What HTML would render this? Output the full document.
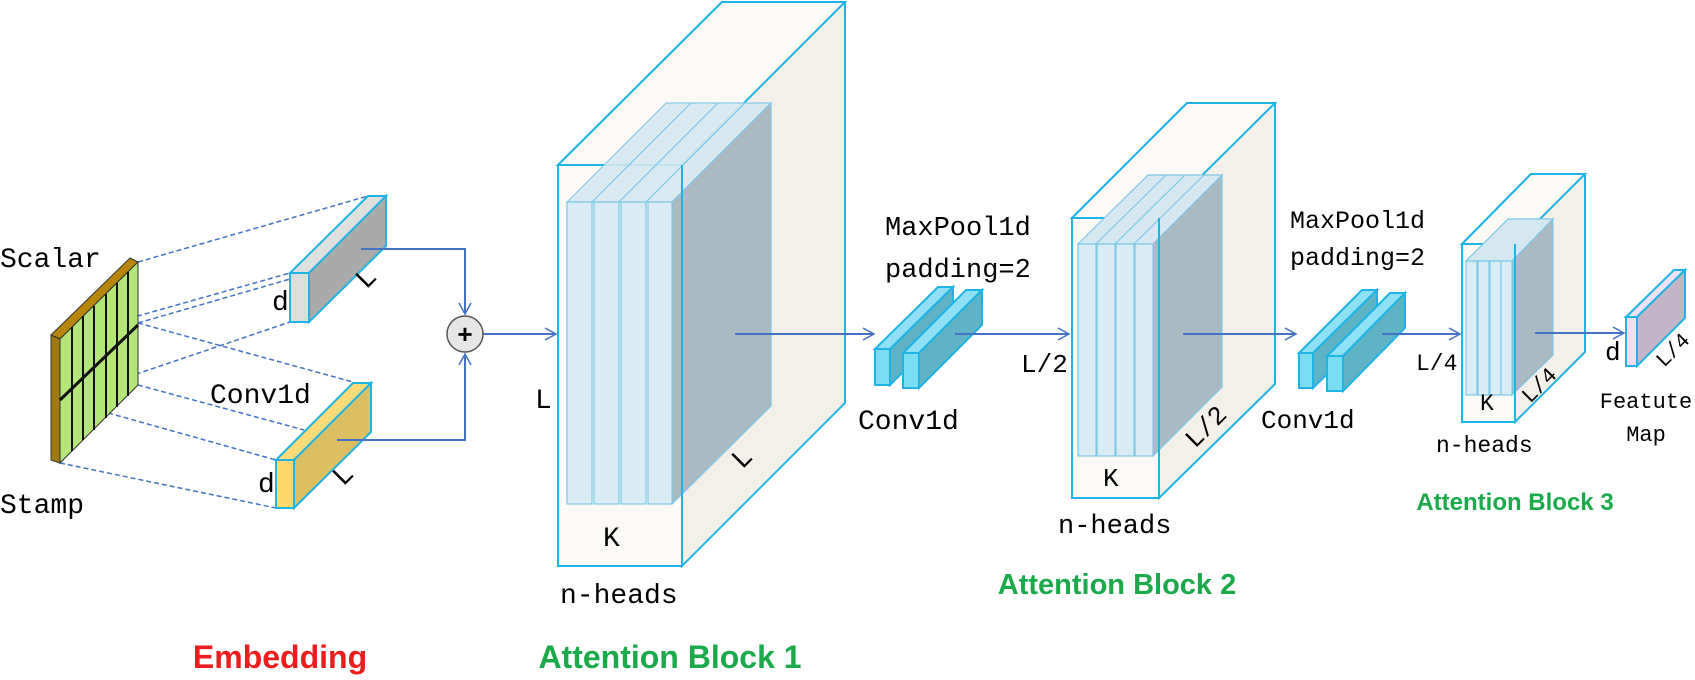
<!DOCTYPE html>
<html><head><meta charset="utf-8"><style>
body{margin:0;background:#fff}
svg text{font-family:"Liberation Mono","Noto Serif CJK SC",monospace;fill:#000}
.s{font-family:"Liberation Sans",sans-serif !important;font-weight:bold}
</style></head><body>
<svg width="1695" height="675" viewBox="0 0 1695 675" xmlns="http://www.w3.org/2000/svg">
<defs><marker id="a" markerWidth="14" markerHeight="14" refX="12" refY="7" orient="auto" markerUnits="userSpaceOnUse"><path d="M1,1 L12,7 L1,13" fill="none" stroke="#4472c4" stroke-width="1.5"/></marker></defs>
<g stroke="#4472c4" stroke-width="1.5" stroke-dasharray="5,3" fill="none">
<line x1="138" y1="262" x2="368" y2="196"/><line x1="60" y1="338" x2="290" y2="273"/>
<line x1="138" y1="323" x2="290" y2="279"/><line x1="60" y1="400" x2="290" y2="322"/>
<line x1="138" y1="323" x2="353" y2="382"/><line x1="62" y1="400" x2="276" y2="460"/>
<line x1="138" y1="385" x2="304" y2="430"/><line x1="60" y1="463" x2="276" y2="508"/>
</g>
<polygon points="51,335 130,258 138,262 60,339" fill="#b8860b" stroke="#333" stroke-width="1"/>
<polygon points="51,335 60,339 60,463 51,460" fill="#a07a10" stroke="#333" stroke-width="1"/>
<polygon points="60,339 138,262 138,385 60,463" fill="#b2e57a" stroke="#333" stroke-width="1"/>
<g stroke="#111" stroke-width="2"><line x1="72" y1="327" x2="72" y2="451"/><line x1="83" y1="316" x2="83" y2="440"/><line x1="94" y1="306" x2="94" y2="430"/><line x1="106" y1="294" x2="106" y2="418"/><line x1="117" y1="283" x2="117" y2="407"/><line x1="128" y1="272" x2="128" y2="396"/><line x1="60" y1="400" x2="138" y2="325" stroke-width="3"/></g>
<g stroke="#1fb4e6" stroke-width="2"><polygon points="290,273 368,196 386,196 309,273" fill="#e0e0e0"/><polygon points="309,273 386,196 386,246 309,322" fill="#aaa"/><rect x="290" y="273" width="19" height="49" fill="#ddd"/>
<polygon points="276,460 353,383 371,383 294,460" fill="#fbdc7a"/><polygon points="294,460 371,383 371,432 294,508" fill="#dcbf60"/><rect x="276" y="460" width="18" height="48" fill="#fdd86a"/></g>
<g fill="none" stroke="#4472c4" stroke-width="2"><polyline points="361,249 465,249 465,314" marker-end="url(#a)"/><polyline points="337,440 465,440 465,354" marker-end="url(#a)"/><line x1="483" y1="334" x2="556" y2="334" marker-end="url(#a)"/></g>
<circle cx="465" cy="334" r="18" fill="#e6e6e6" stroke="#555" stroke-width="1.5"/><text x="465" y="343" font-size="26" text-anchor="middle" font-weight="bold" style="font-family:'Liberation Sans'">+</text>
<text x="0" y="267" font-size="28">Scalar</text><text x="0" y="513" font-size="28">Stamp</text>
<text x="272" y="310" font-size="28">d</text><text x="258" y="492" font-size="28">d</text>
<text x="210" y="403" font-size="28">Conv1d</text>
<text font-size="28" transform="translate(366,290) rotate(-45)">L</text><text font-size="28" transform="translate(343,487) rotate(-45)">L</text>
<g stroke="#1fb4e6" stroke-width="2"><polygon points="558,165 722,2 845,2 845,403 682,566 682,165" fill="#f3f0ea"/><polygon points="558,165 722,2 845,2 682,165" fill="#fcfaf6"/><rect x="558" y="165" width="124" height="401" fill="#fcfaf6"/></g>
<g stroke="#7cc8e6" stroke-width="1.2">
<polygon points="672,202 771,103 771,406 672,504" fill="#a9bac2"/>
<polygon points="567,202 666,103 771,103 672,202" fill="#d5e8f2" opacity=".9"/>
<rect x="567" y="202" width="25" height="302" fill="#d9ebf4"/><rect x="594" y="202" width="25" height="302" fill="#d9ebf4"/><rect x="621" y="202" width="25" height="302" fill="#d9ebf4"/><rect x="648" y="202" width="24" height="302" fill="#d9ebf4"/>
<line x1="592" y1="202" x2="691" y2="103"/><line x1="619" y1="202" x2="718" y2="103"/><line x1="646" y1="202" x2="745" y2="103"/></g>
<line x1="682" y1="165" x2="682" y2="566" stroke="#1fb4e6" stroke-width="2"/>
<line x1="735" y1="334" x2="874" y2="334" stroke="#4472c4" stroke-width="2" marker-end="url(#a)"/>
<text x="535" y="408" font-size="28">L</text><text x="603" y="546" font-size="28">K</text><text x="560" y="603" font-size="28">n-heads</text>
<text font-size="28" transform="translate(742,470) rotate(-45)">L</text>
<g stroke="#1fb4e6" stroke-width="2"><polygon points="875,349 938,287 953,287 890,349" fill="#8fe0f4"/><polygon points="890,349 953,287 953,322 890,385" fill="#5fb3c4"/><rect x="875" y="349" width="15" height="36" fill="#7adcf0"/>
<polygon points="903,353 966,290 982,290 919,353" fill="#8fe0f4"/><polygon points="919,353 982,290 982,325 919,388" fill="#5fb3c4"/><rect x="903" y="353" width="16" height="35" fill="#7adcf0"/></g>
<text x="885" y="235" font-size="27">MaxPool1d</text><text x="885" y="277" font-size="27">padding=2</text><text x="858" y="429" font-size="28">Conv1d</text>
<line x1="955" y1="334" x2="1069" y2="334" stroke="#4472c4" stroke-width="2" marker-end="url(#a)"/>
<g stroke="#1fb4e6" stroke-width="2"><polygon points="1072,218 1187,103 1275,103 1275,384 1159,498 1159,218" fill="#f3f0ea"/><polygon points="1072,218 1187,103 1275,103 1159,218" fill="#fcfaf6"/><rect x="1072" y="218" width="87" height="280" fill="#fcfaf6"/></g>
<g stroke="#7cc8e6" stroke-width="1.2">
<polygon points="1153,244 1222,175 1222,387 1153,456" fill="#a9bac2"/>
<polygon points="1078,244 1148,175 1222,175 1153,244" fill="#d5e8f2"/>
<rect x="1078" y="244" width="18" height="212" fill="#d9ebf4"/><rect x="1097" y="244" width="18" height="212" fill="#d9ebf4"/><rect x="1116" y="244" width="18" height="212" fill="#d9ebf4"/><rect x="1135" y="244" width="18" height="212" fill="#d9ebf4"/>
<line x1="1096" y1="244" x2="1166" y2="175"/><line x1="1115" y1="244" x2="1185" y2="175"/><line x1="1134" y1="244" x2="1204" y2="175"/></g>
<line x1="1159" y1="218" x2="1159" y2="498" stroke="#1fb4e6" stroke-width="2"/>
<line x1="1183" y1="334" x2="1296" y2="334" stroke="#4472c4" stroke-width="2" marker-end="url(#a)"/>
<text x="1021" y="372" font-size="26">L/2</text><text x="1103" y="486" font-size="26">K</text><text x="1058" y="533" font-size="27">n-heads</text>
<text font-size="26" transform="translate(1195,449) rotate(-45)">L/2</text>
<g stroke="#1fb4e6" stroke-width="2"><polygon points="1299,353 1362,290 1377,290 1313,353" fill="#8fe0f4"/><polygon points="1313,353 1377,290 1377,325 1313,388" fill="#5fb3c4"/><rect x="1299" y="353" width="14" height="35" fill="#7adcf0"/>
<polygon points="1327,356 1390,293 1405,293 1343,356" fill="#8fe0f4"/><polygon points="1343,356 1405,293 1405,328 1343,391" fill="#5fb3c4"/><rect x="1327" y="356" width="16" height="35" fill="#7adcf0"/></g>
<text x="1290" y="228" font-size="25">MaxPool1d</text><text x="1290" y="265" font-size="25">padding=2</text><text x="1261" y="428" font-size="26">Conv1d</text>
<line x1="1382" y1="334" x2="1460" y2="334" stroke="#4472c4" stroke-width="2" marker-end="url(#a)"/>
<g stroke="#1fb4e6" stroke-width="2"><polygon points="1462,244 1531,174 1585,174 1585,352 1515,422 1515,244" fill="#f3f0ea"/><polygon points="1462,244 1531,174 1585,174 1515,244" fill="#fcfaf6"/><rect x="1462" y="244" width="53" height="178" fill="#fcfaf6"/></g>
<g stroke="#7cc8e6" stroke-width="1.2">
<polygon points="1512,261 1553,219 1553,355 1512,395" fill="#a9bac2"/>
<polygon points="1466,261 1508,219 1553,219 1512,261" fill="#d5e8f2"/>
<rect x="1466" y="261" width="11" height="134" fill="#d9ebf4"/><rect x="1478" y="261" width="11" height="134" fill="#d9ebf4"/><rect x="1490" y="261" width="11" height="134" fill="#d9ebf4"/><rect x="1501" y="261" width="11" height="134" fill="#d9ebf4"/></g>
<line x1="1515" y1="244" x2="1515" y2="422" stroke="#1fb4e6" stroke-width="2"/>
<line x1="1535" y1="333" x2="1624" y2="333" stroke="#4472c4" stroke-width="2" marker-end="url(#a)"/>
<text x="1416" y="370" font-size="23">L/4</text><text x="1480" y="410" font-size="23">K</text><text x="1436" y="452" font-size="23">n-heads</text>
<text font-size="22" transform="translate(1530,404) rotate(-45)">L/4</text>
<g stroke="#1fb4e6" stroke-width="2"><polygon points="1626,317 1674,270 1685,270 1637,317" fill="#efe0f4"/><polygon points="1637,317 1685,270 1685,318 1637,366" fill="#c3b4c8"/><rect x="1626" y="317" width="11" height="49" fill="#f0dcf6"/></g>
<text x="1605" y="360" font-size="26">d</text>
<text font-size="21" transform="translate(1664,368) rotate(-45)">L/4</text>
<text x="1646" y="408" font-size="22" text-anchor="middle">Featute</text><text x="1646" y="441" font-size="22" text-anchor="middle">Map</text>
<text class="s" x="280" y="668" font-size="32" text-anchor="middle" style="fill:#ee1c1c">Embedding</text>
<text class="s" x="670" y="668" font-size="32" text-anchor="middle" style="fill:#1aaa4a">Attention Block 1</text>
<text class="s" x="1117" y="594" font-size="29" text-anchor="middle" style="fill:#1aaa4a">Attention Block 2</text>
<text class="s" x="1515" y="510" font-size="24" text-anchor="middle" style="fill:#1aaa4a">Attention Block 3</text>
</svg>
</body></html>
